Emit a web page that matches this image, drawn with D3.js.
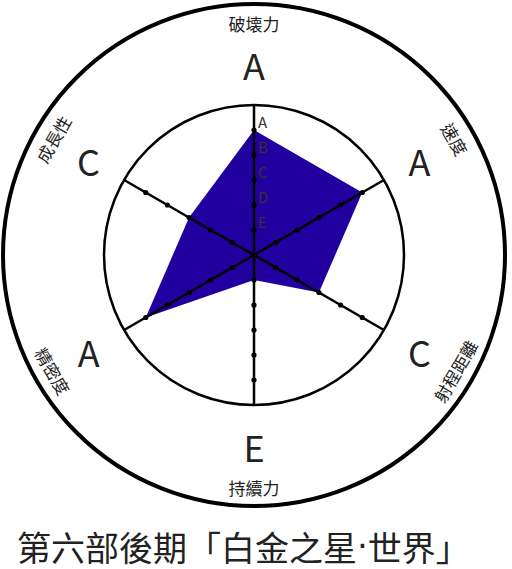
<!DOCTYPE html>
<html><head><meta charset="utf-8">
<script src="https://cdn.jsdelivr.net/npm/d3@7"></script>
<style>body{margin:0;background:#fff}svg{display:block}</style>
</head><body>
<script>
const axes = ["破壊力","速度","射程距離","持續力","精密度","成長性"];
const grades = ["A","A","C","E","A","C"];
const gradeLevels = ["E","D","C","B","A"];
const titleParts = ["第六部後期「白金之星", "·", "世界」"];

const W = 512, H = 569, cx = 254, cy = 255;
const rInner = 150, rOuter = 251;
const gradeValue = g => gradeLevels.indexOf(g) + 1;
const r = d3.scaleLinear().domain([0, 6]).range([0, rInner]);
const ang = d3.scalePoint().domain(axes).range([0, 300]);
const rad = a => a * Math.PI / 180;
const px = (a, rr) => Math.sin(rad(a)) * rr;
const py = (a, rr) => -Math.cos(rad(a)) * rr;

const svg = d3.select("body").append("svg").attr("width", W).attr("height", H);
const g = svg.append("g").attr("transform", `translate(${cx},${cy})`);
const font = "'Noto Sans CJK TC','Noto Sans',sans-serif";

g.append("circle").attr("r", rOuter).attr("fill", "none").attr("stroke", "#000").attr("stroke-width", 4);
g.append("circle").attr("r", rInner).attr("fill", "none").attr("stroke", "#000").attr("stroke-width", 2.5);

const line = d3.lineRadial().angle(d => rad(ang(d.axis))).radius(d => r(d.v)).curve(d3.curveLinearClosed);
g.append("path").datum(axes.map((a, i) => ({axis: a, v: gradeValue(grades[i])})))
  .attr("d", line).attr("fill", "#2200a0");

axes.forEach(a => {
  const A = ang(a);
  g.append("line").attr("x1", 0).attr("y1", 0).attr("x2", px(A, rInner)).attr("y2", py(A, rInner))
    .attr("stroke", "#000").attr("stroke-width", 2.5);
  gradeLevels.forEach((lv, i) => {
    g.append("circle").attr("cx", px(A, r(i + 1))).attr("cy", py(A, r(i + 1))).attr("r", 2.6).attr("fill", "#000");
  });
});

gradeLevels.forEach((lv, i) => {
  g.append("text").attr("x", 4).attr("y", -r(i + 1) - 2).text(lv)
    .attr("font-family", font).attr("font-size", 15).attr("fill", "#333");
});

axes.forEach((a, i) => {
  const A = ang(a);
  g.append("text").attr("x", px(A, 191)).attr("y", py(A, 191)).text(grades[i])
    .attr("text-anchor", "middle").attr("dominant-baseline", "central")
    .attr("font-family", font).attr("font-size", 36).attr("fill", "#222");
  let rot = A > 90 && A < 270 ? A - 180 : A;
  if (A === 180) rot = 0;
  const x = px(A, 232), y = py(A, 232);
  g.append("text").attr("transform", `translate(${x},${y}) rotate(${rot})`).text(a)
    .attr("text-anchor", "middle").attr("dominant-baseline", "central")
    .attr("font-family", font).attr("font-size", 17).attr("fill", "#222");
});

const t = svg.append("text").attr("x", 17).attr("y", 546)
  .attr("dominant-baseline", "central")
  .attr("font-family", font).attr("font-size", 34).attr("fill", "#222");
titleParts.forEach((p, i) => {
  t.append("tspan").text(p).attr("font-family", i === 1 ? "'DejaVu Sans',sans-serif" : font);
});
</script>
</body></html>
